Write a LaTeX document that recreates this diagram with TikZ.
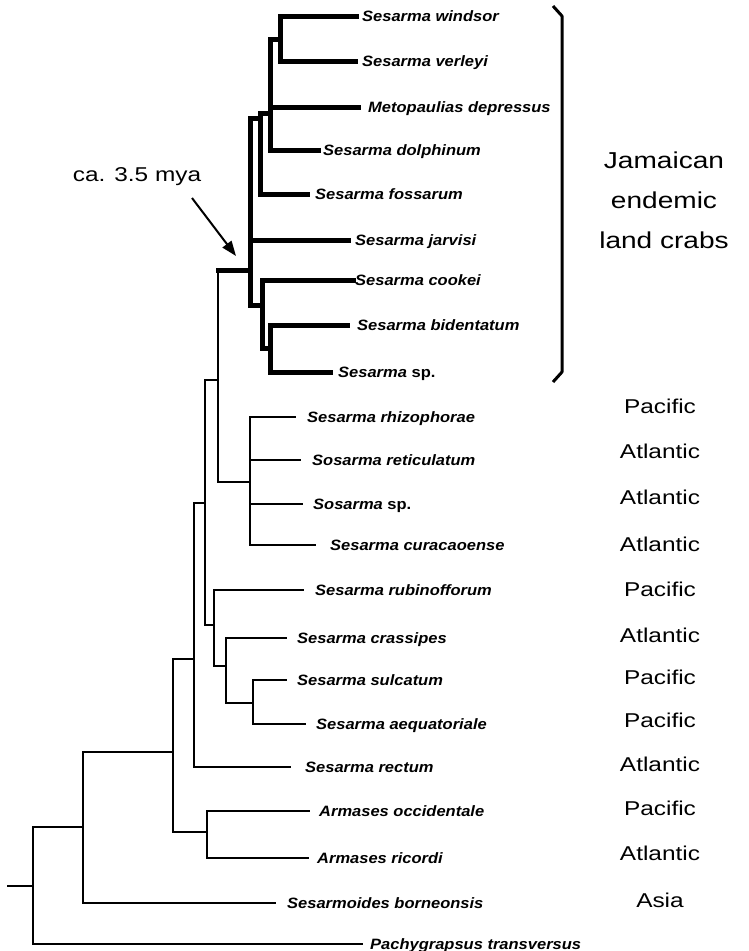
\documentclass[tikz,border=0pt]{standalone}
\usepackage{fontspec}
\usetikzlibrary{arrows.meta}
\newfontfamily\spfont[FakeStretch=1.1]{Liberation Sans}
\newfontfamily\rgfont[FakeStretch=1.22]{Liberation Sans}
\tikzset{
  thinbr/.style={line width=1.4pt, line cap=rect, line join=miter},
  thickbr/.style={line width=5pt, line cap=rect, line join=miter},
  sp/.style={anchor=base west, inner sep=0pt, font=\spfont\bfseries\itshape\fontsize{15}{17}\selectfont},
  region/.style={anchor=base, inner sep=0pt, font=\rgfont\fontsize{20}{24}\selectfont},
}
\begin{document}
\begin{tikzpicture}[x=1pt,y=-1pt]
\useasboundingbox (0,0) rectangle (749,951);
% leaf line ends
\coordinate (e1) at (356,16);
\coordinate (e2) at (355,61);
\coordinate (e3) at (358,107);
\coordinate (e4) at (318,150);
\coordinate (e5) at (307,194);
\coordinate (e6) at (348,240);
\coordinate (e7) at (353,280);
\coordinate (e8) at (347,325);
\coordinate (e9) at (330,372);
\coordinate (e10) at (295,417);
\coordinate (e11) at (300,460);
\coordinate (e12) at (302,504);
\coordinate (e13) at (315,545);
\coordinate (e14) at (303,590);
\coordinate (e15) at (286,638);
\coordinate (e16) at (286,680);
\coordinate (e17) at (305,724);
\coordinate (e18) at (290,767);
\coordinate (e19) at (309,811);
\coordinate (e20) at (308,858);
\coordinate (e21) at (275,903);
\coordinate (e22) at (362,944);
% internal nodes
\coordinate (J1) at (280,39);
\coordinate (J2) at (270,113);
\coordinate (J3) at (260,118);
\coordinate (J4) at (250,270);
\coordinate (J5) at (262,305);
\coordinate (J6) at (270,348);
\coordinate (N2) at (218,380);
\coordinate (P1) at (250,482);
\coordinate (N1) at (205,503);
\coordinate (R) at (214,625);
\coordinate (R2) at (226,666);
\coordinate (R3) at (253,703);
\coordinate (N0) at (194,659);
\coordinate (M) at (173,752);
\coordinate (A) at (207,832);
\coordinate (S) at (83,827);
\coordinate (Root) at (33,886);
\coordinate (Stub) at (8,886);

% thin branches
\draw[thinbr] (N2) |- (J4);
\draw[thinbr] (N2) |- (P1);
\foreach \e in {e10,e11,e12,e13} \draw[thinbr] (P1) |- (\e);
\draw[thinbr] (N1) |- (N2);
\draw[thinbr] (N1) |- (R);
\draw[thinbr] (R) |- (e14);
\draw[thinbr] (R) |- (R2);
\draw[thinbr] (R2) |- (e15);
\draw[thinbr] (R2) |- (R3);
\draw[thinbr] (R3) |- (e16);
\draw[thinbr] (R3) |- (e17);
\draw[thinbr] (N0) |- (N1);
\draw[thinbr] (N0) |- (e18);
\draw[thinbr] (M) |- (N0);
\draw[thinbr] (M) |- (A);
\draw[thinbr] (A) |- (e19);
\draw[thinbr] (A) |- (e20);
\draw[thinbr] (S) |- (M);
\draw[thinbr] (S) |- (e21);
\draw[thinbr] (Root) |- (S);
\draw[thinbr] (Root) |- (e22);
\draw[thinbr, line width=2pt] (Stub) -- (Root);

% thick Jamaican clade
\draw[thickbr] (J4 -| N2) -- (J4);
\draw[thickbr] (J1) |- (e1);
\draw[thickbr] (J1) |- (e2);
\draw[thickbr] (J2) |- (J1);
\draw[thickbr] (J2) |- (e3);
\draw[thickbr] (J2) |- (e4);
\draw[thickbr] (J3) |- (J2);
\draw[thickbr] (J3) |- (e5);
\draw[thickbr] (J4) |- (J3);
\draw[thickbr] (J4) |- (e6);
\draw[thickbr] (J4) |- (J5);
\draw[thickbr] (J5) |- (e7);
\draw[thickbr] (J5) |- (J6);
\draw[thickbr] (J6) |- (e8);
\draw[thickbr] (J6) |- (e9);

% species labels
\node[sp] (l1) at (362,21) {Sesarma windsor};
\node[sp] (l2) at (362,66) {Sesarma verleyi};
\node[sp] (l3) at (368,112) {Metopaulias depressus};
\node[sp] (l4) at (323,155) {Sesarma dolphinum};
\node[sp] (l5) at (315,199) {Sesarma fossarum};
\node[sp] (l6) at (355,245) {Sesarma jarvisi};
\node[sp] (l7) at (355,285) {Sesarma cookei};
\node[sp] (l8) at (357,330) {Sesarma bidentatum};
\node[sp] (l9) at (338,377) {Sesarma \upshape sp.};
\node[sp] (l10) at (307,422) {Sesarma rhizophorae};
\node[sp] (l11) at (312,465) {Sosarma reticulatum};
\node[sp] (l12) at (313,509) {Sosarma \upshape sp.};
\node[sp] (l13) at (330,550) {Sesarma curacaoense};
\node[sp] (l14) at (315,595) {Sesarma rubinofforum};
\node[sp] (l15) at (297,643) {Sesarma crassipes};
\node[sp] (l16) at (297,685) {Sesarma sulcatum};
\node[sp] (l17) at (316,729) {Sesarma aequatoriale};
\node[sp] (l18) at (305,772) {Sesarma rectum};
\node[sp] (l19) at (319,816) {Armases occidentale};
\node[sp] (l20) at (317,863) {Armases ricordi};
\node[sp] (l21) at (287,908) {Sesarmoides borneonsis};
\node[sp] (l22) at (370,949) {Pachygrapsus transversus};

% region labels
\node[region] (g10) at (660,413) {Pacific};
\node[region] (g11) at (660,458) {Atlantic};
\node[region] (g12) at (660,504) {Atlantic};
\node[region] (g13) at (660,551) {Atlantic};
\node[region] (g14) at (660,596) {Pacific};
\node[region] (g15) at (660,642) {Atlantic};
\node[region] (g16) at (660,684) {Pacific};
\node[region] (g17) at (660,727) {Pacific};
\node[region] (g18) at (660,771) {Atlantic};
\node[region] (g19) at (660,815) {Pacific};
\node[region] (g20) at (660,860) {Atlantic};
\node[region] (g21) at (660,907) {Asia};

% bracket
\coordinate (bt) at (553,6);
\coordinate (bb) at (553,382);
\draw[line width=3pt, line join=round] (bt) -- (562,16) -- (562,372) -- (bb);

\node[inner sep=0pt, align=center, font=\rgfont\fontsize{23}{40}\selectfont] (jam) at (664,200) {Jamaican\\endemic\\land crabs};

% arrow
\node[inner sep=0pt, font=\rgfont\fontsize{20}{24}\selectfont] (mya) at (137,177) {ca. 3.5 mya};
\coordinate (atail) at (192,198);
\coordinate (ahead) at (236,256);
\draw[line width=2pt, -{Triangle[length=15pt,width=11pt]}] (atail) -- (ahead);
\end{tikzpicture}
\end{document}
